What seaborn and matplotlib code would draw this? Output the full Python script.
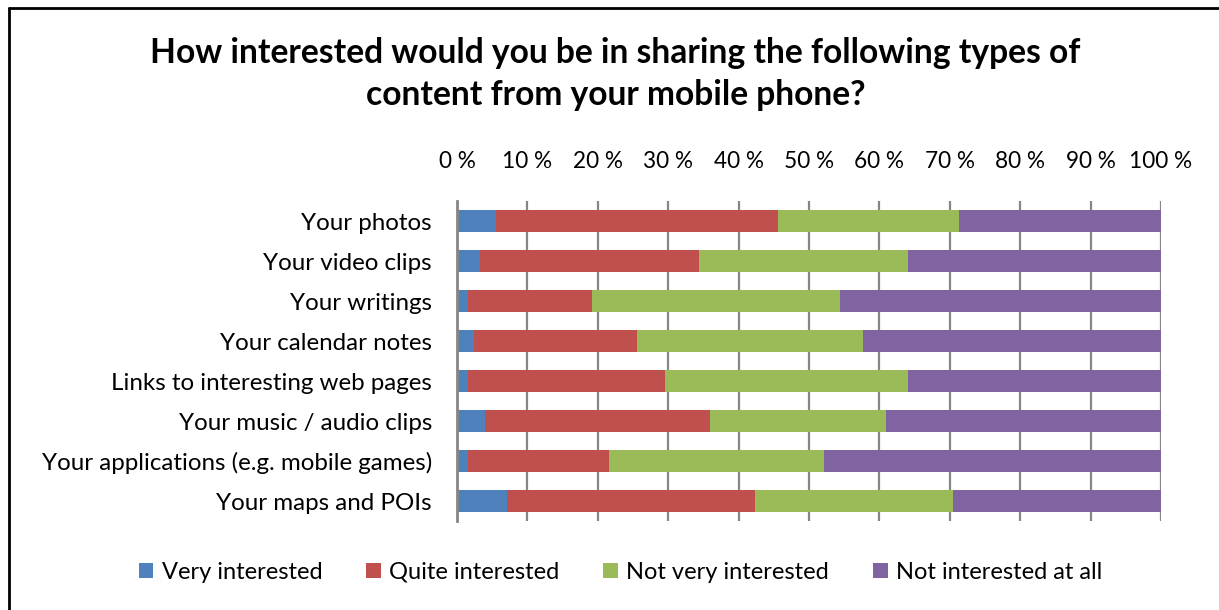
import matplotlib
matplotlib.use("Agg")
import matplotlib.pyplot as plt
from matplotlib.lines import Line2D
from matplotlib.patches import Patch
from matplotlib.ticker import FuncFormatter
import numpy as np
import pandas as pd
import seaborn as sns

# Survey answers, share of respondents (%) per content type
categories = [
    "Your photos",
    "Your video clips",
    "Your writings",
    "Your calendar notes",
    "Links to interesting web pages",
    "Your music / audio clips",
    "Your applications (e.g. mobile games)",
    "Your maps and POIs",
]
very_interested = [5.5, 3.2, 1.6, 2.4, 1.6, 4.0, 1.6, 7.1]
quite_interested = [40.1, 31.2, 17.6, 23.2, 28.0, 32.0, 20.0, 35.2]
not_very_interested = [25.7, 29.7, 35.2, 32.1, 34.5, 24.9, 30.5, 28.2]
not_interested_at_all = [28.7, 35.9, 45.6, 42.3, 35.9, 39.1, 47.9, 29.5]

series_names = ["Very interested", "Quite interested",
                "Not very interested", "Not interested at all"]
series_colors = ["#4F81BD", "#C0504D", "#9BBB59", "#8064A2"]
tick_values = [0, 10, 20, 30, 40, 50, 60, 70, 80, 90, 100]

sns.set_theme(style="white")
plt.rcParams["font.family"] = ["Lato", "DejaVu Sans"]
plt.rcParams["text.color"] = "black"

df = pd.DataFrame({
    "category": categories,
    series_names[0]: very_interested,
    series_names[1]: quite_interested,
    series_names[2]: not_very_interested,
    series_names[3]: not_interested_at_all,
})
# running totals so each segment ends where the next one starts
cum = df[series_names].cumsum(axis=1)

fig = plt.figure(figsize=(12.19, 6.10), dpi=100)
ax = fig.add_axes([457 / 1219, 1 - 521 / 610, 704 / 1219, 320 / 610])

# draw longest cumulative bar first so shorter ones sit on top
for name, color in reversed(list(zip(series_names, series_colors))):
    sns.barplot(x=cum[name], y=df["category"], orient="h", color=color,
                width=0.56, linewidth=0, saturation=1, ax=ax, zorder=3)

ax.set_xlim(0, 100)
ax.set_xticks(tick_values)
ax.xaxis.set_major_formatter(FuncFormatter(lambda v, _: f"{int(round(v))} %"))
ax.xaxis.tick_top()
ax.tick_params(axis="x", length=0, pad=21, labelsize=16.3, colors="black")
ax.tick_params(axis="y", length=0, pad=18, labelsize=17.4, colors="black")
ax.set_xlabel("")
ax.set_ylabel("")

ax.grid(axis="x", color="#868686", linewidth=1.6, zorder=0)
ax.grid(axis="y", visible=False)
ax.set_axisbelow(True)
for side in ["top", "right", "bottom"]:
    ax.spines[side].set_visible(False)
ax.spines["left"].set_color("#868686")
ax.spines["left"].set_linewidth(2)
ax.spines["left"].set_zorder(4)

fig.text(0.505, 0.878, "How interested would you be in sharing the following types of\ncontent from your mobile phone?",
         ha="center", va="center", fontsize=24.2, fontweight="bold",
         linespacing=1.38, color="black")

handles = [Patch(facecolor=c, edgecolor="none") for c in series_colors]
leg = fig.legend(handles, series_names, loc="center", bbox_to_anchor=(0.509, 0.062),
                 ncol=4, frameon=False, fontsize=17, handlelength=0.62,
                 handleheight=0.62, handletextpad=0.35, columnspacing=1.86)
for t in leg.get_texts():
    t.set_color("black")

# chart frame edges
fig.add_artist(Line2D([8.5 / 1219, 8.5 / 1219], [0, 1 - 7.5 / 610], color="black",
                      linewidth=2, transform=fig.transFigure))
fig.add_artist(Line2D([8.5 / 1219, 1], [1 - 7.5 / 610, 1 - 7.5 / 610], color="black",
                      linewidth=2, transform=fig.transFigure))

fig.savefig("out.png", dpi=100)
